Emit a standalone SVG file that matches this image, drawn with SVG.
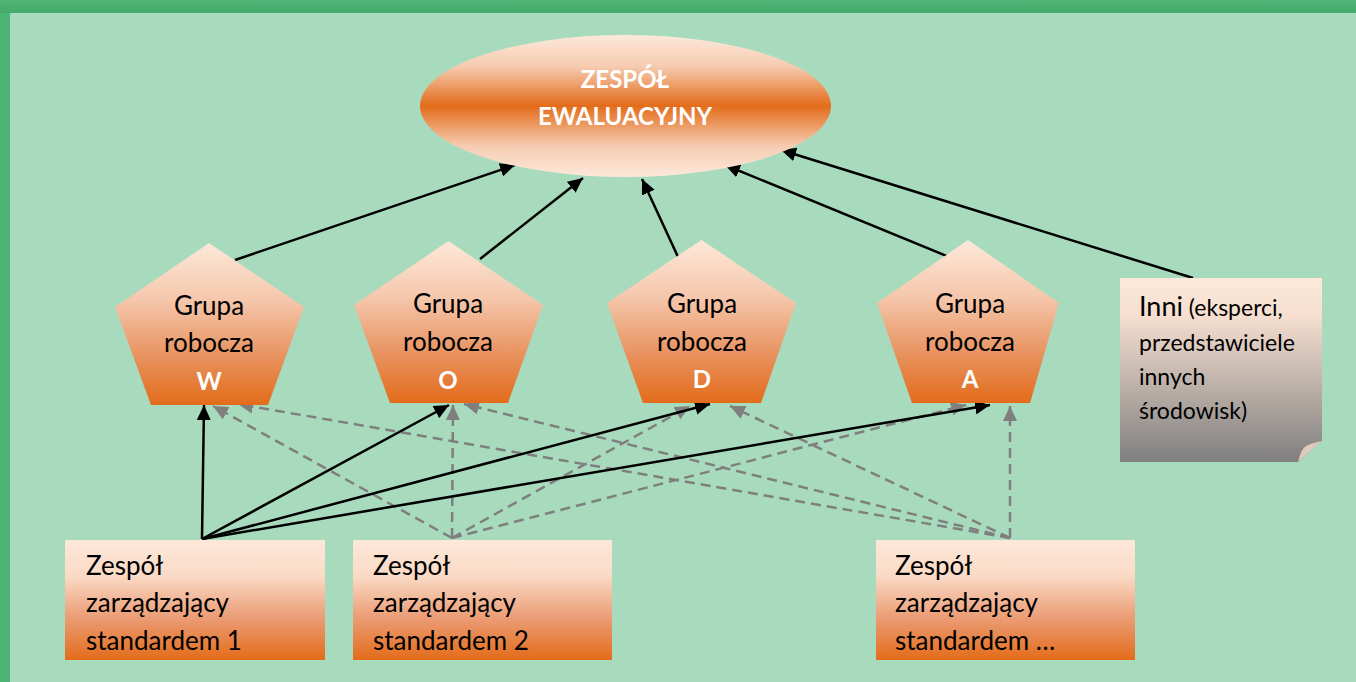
<svg xmlns="http://www.w3.org/2000/svg" width="1356" height="682" viewBox="0 0 1356 682">
<defs>
<linearGradient id="gEll" x1="0" y1="0" x2="0" y2="1">
<stop offset="0" stop-color="#fce9da"/><stop offset="0.22" stop-color="#f6cbb1"/><stop offset="0.5" stop-color="#e36c1a"/><stop offset="0.78" stop-color="#f6cbb1"/><stop offset="1" stop-color="#fce9da"/>
</linearGradient>
<linearGradient id="gPent" x1="0" y1="0" x2="0" y2="1">
<stop offset="0" stop-color="#fde8d9"/><stop offset="0.35" stop-color="#f5c7ac"/><stop offset="0.7" stop-color="#e8925f"/><stop offset="1" stop-color="#e36c1a"/>
</linearGradient>
<linearGradient id="gBox" x1="0" y1="0" x2="0" y2="1">
<stop offset="0" stop-color="#fde8d9"/><stop offset="0.3" stop-color="#fadac6"/><stop offset="0.65" stop-color="#eb9c74"/><stop offset="1" stop-color="#e36c1a"/>
</linearGradient>
<linearGradient id="gInni" x1="0" y1="0" x2="0" y2="1">
<stop offset="0" stop-color="#fde8d9"/><stop offset="0.2" stop-color="#f6dfd0"/><stop offset="1" stop-color="#7f7f7f"/>
</linearGradient>
<linearGradient id="gTop" x1="0" y1="0" x2="0" y2="1">
<stop offset="0" stop-color="#4fb777"/><stop offset="1" stop-color="#46a86c"/>
</linearGradient>
<marker id="mB" markerUnits="userSpaceOnUse" markerWidth="16" markerHeight="14" refX="15" refY="7" orient="auto"><path d="M0,0 L15,7 L0,14 z" fill="#000"/></marker>
<marker id="mG" markerUnits="userSpaceOnUse" markerWidth="16" markerHeight="14" refX="15" refY="7" orient="auto"><path d="M0,0 L15,7 L0,14 z" fill="#7f7f7f"/></marker>
</defs>
<style>
.t{font-family:Lato,"Liberation Sans",sans-serif;fill:#000}
.pt{font-size:26px;text-anchor:middle}
.pl{font-size:24px;font-weight:bold;fill:#fff;text-anchor:middle}
.bt{font-size:26px}
.sol{stroke:#000;stroke-width:2.5;fill:none;marker-end:url(#mB)}
.das{stroke:#7f7f7f;stroke-width:2.5;fill:none;stroke-dasharray:10 6;marker-end:url(#mG)}
</style>
<rect x="0" y="0" width="1356" height="682" fill="#4cb474"/>
<rect x="0" y="0" width="1356" height="13" fill="url(#gTop)"/>
<rect x="10" y="13" width="1346" height="669" fill="#a8dbbd"/>

<g id="connectors">
<line class="sol" x1="235" y1="260" x2="515" y2="165"/>
<line class="sol" x1="480" y1="259" x2="583" y2="178"/>
<line class="sol" x1="679" y1="259" x2="642" y2="179"/>
<line class="sol" x1="954" y1="259" x2="725" y2="165"/>
<line class="sol" x1="1193" y1="278" x2="781" y2="150"/>

<line class="das" x1="452" y1="538" x2="213" y2="406"/>
<line class="das" x1="452" y1="538" x2="453" y2="405"/>
<line class="das" x1="452" y1="538" x2="690" y2="406"/>
<line class="das" x1="452" y1="538" x2="966" y2="405"/>
<line class="das" x1="1010" y1="538" x2="238" y2="404"/>
<line class="das" x1="1010" y1="538" x2="464" y2="404"/>
<line class="das" x1="1010" y1="538" x2="730" y2="406"/>
<line class="das" x1="1010" y1="538" x2="1010" y2="406"/>

<line class="sol" x1="202" y1="539" x2="204" y2="405"/>
<line class="sol" x1="202" y1="539" x2="449" y2="405"/>
<line class="sol" x1="202" y1="539" x2="710" y2="404"/>
<line class="sol" x1="202" y1="539" x2="990" y2="405"/>
</g>

<g id="zespol-ewaluacyjny">
<ellipse cx="625.5" cy="106" rx="205.5" ry="71" fill="url(#gEll)"/>
<text class="t pl" x="625" y="88">ZESPÓŁ</text>
<text class="t pl" x="625" y="125">EWALUACYJNY</text>
</g>

<g id="grupa-w">
<polygon points="209,243 304,307 268,405 151,405 115,307" fill="url(#gPent)"/>
<text class="t pt" x="209" y="315">Grupa</text>
<text class="t pt" x="209" y="352">robocza</text>
<text class="t pl" x="209" y="390">W</text>
</g>
<g id="grupa-o">
<polygon points="448.5,241 543,305 508,403 390,403 354,305" fill="url(#gPent)"/>
<text class="t pt" x="448" y="313">Grupa</text>
<text class="t pt" x="448" y="351">robocza</text>
<text class="t pl" x="448" y="389">O</text>
</g>
<g id="grupa-d">
<polygon points="701.5,240 796,303 761,403 643,403 607,303" fill="url(#gPent)"/>
<text class="t pt" x="702" y="313">Grupa</text>
<text class="t pt" x="702" y="351">robocza</text>
<text class="t pl" x="702" y="388">D</text>
</g>
<g id="grupa-a">
<polygon points="968,240 1059,303 1030,403 912,403 877,303" fill="url(#gPent)"/>
<text class="t pt" x="970" y="313">Grupa</text>
<text class="t pt" x="970" y="351">robocza</text>
<text class="t pl" x="970" y="388">A</text>
</g>

<g id="inni">
<polygon points="1120,278 1322,278 1322,441 1298,462 1120,462" fill="url(#gInni)"/>
<path d="M1298,462 Q1301,449 1306,446 Q1312,443 1322,441 Z" fill="#dccabd"/>
<text class="t" x="1139" y="316"><tspan font-size="27">Inni</tspan><tspan font-size="23"> (eksperci,</tspan></text>
<text class="t" x="1139" y="351" font-size="23">przedstawiciele</text>
<text class="t" x="1139" y="385" font-size="23">innych</text>
<text class="t" x="1139" y="419" font-size="23">środowisk)</text>
</g>

<g id="zespol-1">
<rect x="65" y="540" width="260" height="120" fill="url(#gBox)"/>
<text class="t bt" x="86" y="575">Zespół</text>
<text class="t bt" x="86" y="612">zarządzający</text>
<text class="t bt" x="86" y="650">standardem 1</text>
</g>
<g id="zespol-2">
<rect x="353" y="540" width="259" height="120" fill="url(#gBox)"/>
<text class="t bt" x="373" y="575">Zespół</text>
<text class="t bt" x="373" y="612">zarządzający</text>
<text class="t bt" x="373" y="650">standardem 2</text>
</g>
<g id="zespol-n">
<rect x="876" y="540" width="259" height="120" fill="url(#gBox)"/>
<text class="t bt" x="895" y="575">Zespół</text>
<text class="t bt" x="895" y="612">zarządzający</text>
<text class="t bt" x="895" y="650">standardem …</text>
</g>
</svg>
